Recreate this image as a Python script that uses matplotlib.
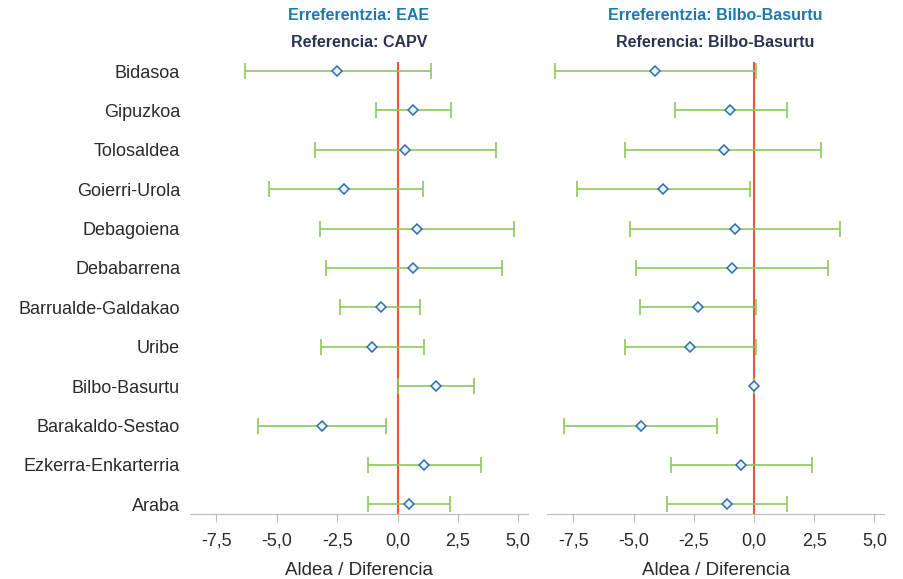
import matplotlib.pyplot as plt
import numpy as np

plt.rcParams['font.family'] = ['Liberation Sans', 'DejaVu Sans']

# regions (top to bottom)
regions = ['Bidasoa', 'Gipuzkoa', 'Tolosaldea', 'Goierri-Urola', 'Debagoiena',
           'Debabarrena', 'Barrualde-Galdakao', 'Uribe', 'Bilbo-Basurtu',
           'Barakaldo-Sestao', 'Ezkerra-Enkarterria', 'Araba']

# reference: EAE / CAPV
eae_diff = [-2.50, 0.62, 0.33, -2.20, 0.79, 0.66, -0.70, -1.04, 1.58, -3.11, 1.08, 0.46]
eae_low = [-6.30, -0.91, -3.40, -5.31, -3.20, -2.95, -2.37, -3.15, 0.00, -5.77, -1.24, -1.24]
eae_high = [1.37, 2.20, 4.07, 1.04, 4.81, 4.32, 0.95, 1.08, 3.15, -0.46, 3.44, 2.16]

# reference: Bilbo-Basurtu
bb_diff = [-4.11, -1.00, -1.24, -3.78, -0.79, -0.91, -2.32, -2.66, 0.00, -4.69, -0.54, -1.12]
bb_low = [-8.26, -3.28, -5.35, -7.34, -5.15, -4.90, -4.73, -5.35, 0.00, -7.88, -3.44, -3.61]
bb_high = [0.08, 1.37, 2.78, -0.17, 3.57, 3.07, 0.08, 0.08, 0.00, -1.54, 2.41, 1.37]

titles_eu = ['Erreferentzia: EAE', 'Erreferentzia: Bilbo-Basurtu']
titles_es = ['Referencia: CAPV', 'Referencia: Bilbo-Basurtu']
xticks = [-7.5, -5.0, -2.5, 0.0, 2.5, 5.0]
xticklabels = ['-7,5', '-5,0', '-2,5', '0,0', '2,5', '5,0']

fig = plt.figure(figsize=(9.04, 5.79), dpi=100)
ax1 = fig.add_axes([0.210, 0.112, 0.374, 0.781])
ax2 = fig.add_axes([0.605, 0.112, 0.373, 0.781])

y = np.arange(len(regions))
panels = [(ax1, eae_diff, eae_low, eae_high), (ax2, bb_diff, bb_low, bb_high)]

for i, (ax, d, lo, hi) in enumerate(panels):
    d = np.array(d)
    err = [d - np.array(lo), np.array(hi) - d]
    ax.axvline(0, color='#f0543c', lw=1.5, zorder=1)
    ax.errorbar(d, y, xerr=err, fmt='none', ecolor='#8cc85a', elinewidth=1.2,
                capsize=6, capthick=1.2, zorder=2)
    ax.plot(d, y, 'D', ms=5.5, mfc='#e4f2fa', mec='#2e6db0', mew=1.1, zorder=3)

    ax.set_xlim(-8.6, 5.4)
    ax.set_ylim(11.25, -0.23)
    ax.set_xticks(xticks)
    ax.set_xticklabels(xticklabels, fontsize=13, color='#2a2a2a')
    ax.tick_params(axis='x', length=6, color='#bbbbbb', pad=7)
    ax.tick_params(axis='y', length=0, pad=7)
    for s in ['top', 'right', 'left']:
        ax.spines[s].set_visible(False)
    ax.spines['bottom'].set_color('#bbbbbb')
    ax.set_xlabel('Aldea / Diferencia', fontsize=13.5, color='#2a2a2a', labelpad=9)

    ax.set_yticks(y)
    if i == 0:
        ax.set_yticklabels(regions, fontsize=13, color='#2a2a2a')
    else:
        ax.set_yticklabels([])

    ax.text(0.5, 1.102, titles_eu[i], transform=ax.transAxes,
            ha='center', va='center', fontsize=11.5, fontweight='bold', color='#1b78b0')
    ax.text(0.5, 1.042, titles_es[i], transform=ax.transAxes,
            ha='center', va='center', fontsize=11.5, fontweight='bold', color='#2b3350')

plt.savefig('out.png', dpi=100)
